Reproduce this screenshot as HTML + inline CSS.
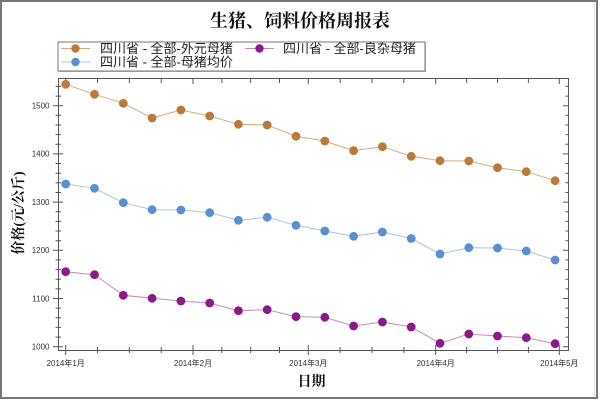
<!DOCTYPE html>
<html><head><meta charset="utf-8"><style>
html,body{margin:0;padding:0;background:#fff;}
svg{display:block;}
</style></head><body>
<svg width="600" height="400" viewBox="0 0 600 400" xmlns="http://www.w3.org/2000/svg">
<rect x="0" y="0" width="600" height="400" fill="#fff"/>
<rect x="1" y="1" width="596" height="397" fill="none" stroke="#777" stroke-width="2"/>
<line x1="594.5" y1="2" x2="594.5" y2="397" stroke="#e4e4e4" stroke-width="1"/>

<text x="300" y="27" text-anchor="middle" font-family="'Liberation Serif','Noto Serif CJK SC',serif" font-weight="bold" font-size="18" fill="#111">生猪、饲料价格周报表</text>

<!-- legend -->
<rect x="59" y="43" width="367" height="29" fill="#bbb"/>
<rect x="58" y="42" width="367" height="29" fill="#fff" stroke="#777" stroke-width="1"/>
<g font-family="'Liberation Sans','Noto Sans CJK SC',sans-serif" font-size="13" fill="#222">
<line x1="61" y1="48.5" x2="90" y2="48.5" stroke="#d9a878" stroke-width="1"/>
<circle cx="75.5" cy="48.5" r="4.2" fill="#b97a3b"/>
<text x="100" y="53">四川省 - 全部-外元母猪</text>
<line x1="245" y1="48.5" x2="274" y2="48.5" stroke="#c58ac4" stroke-width="1"/>
<circle cx="259.5" cy="48.5" r="4.2" fill="#8b1a89"/>
<text x="283" y="53">四川省 - 全部-良杂母猪</text>
<line x1="61" y1="62" x2="90" y2="62" stroke="#a9c4e6" stroke-width="1"/>
<circle cx="75.5" cy="62" r="4.2" fill="#5b8fd0"/>
<text x="100" y="66.5">四川省 - 全部-母猪均价</text>
</g>

<!-- plot frame -->
<g stroke="#555" stroke-width="1" fill="none">
<path d="M58.5 78.5 H568.5 V350.5 H58.5 Z"/>
<path d="M53 346.7H63M53 298.5H63M53 250.3H63M53 202.1H63M53 153.9H63M53 105.7H63"/>
<path d="M55.5 337.1H61M55.5 327.4H61M55.5 317.8H61M55.5 308.1H61M55.5 288.9H61M55.5 279.2H61M55.5 269.6H61M55.5 259.9H61M55.5 240.7H61M55.5 231H61M55.5 221.4H61M55.5 211.7H61M55.5 192.5H61M55.5 182.8H61M55.5 173.2H61M55.5 163.5H61M55.5 144.3H61M55.5 134.6H61M55.5 125H61M55.5 115.3H61M55.5 96.1H61M55.5 86.4H61"/>
<path d="M563 346.7H568.5M563 298.5H568.5M563 250.3H568.5M563 202.1H568.5M563 153.9H568.5M563 105.7H568.5"/>
<path d="M565.5 337.1H568.5M565.5 327.4H568.5M565.5 317.8H568.5M565.5 308.1H568.5M565.5 288.9H568.5M565.5 279.2H568.5M565.5 269.6H568.5M565.5 259.9H568.5M565.5 240.7H568.5M565.5 231H568.5M565.5 221.4H568.5M565.5 211.7H568.5M565.5 192.5H568.5M565.5 182.8H568.5M565.5 173.2H568.5M565.5 163.5H568.5M565.5 144.3H568.5M565.5 134.6H568.5M565.5 125H568.5M565.5 115.3H568.5M565.5 96.1H568.5M565.5 86.4H568.5"/>
<path d="M65.7 345V355M193 345V355M308.3 345V355M435.7 345V355M559.3 345V355"/>
<path d="M97.5 347V353M129.3 347V353M161.2 347V353M221.8 347V353M250.7 347V353M279.5 347V353M340.1 347V353M372 347V353M403.9 347V353M466.6 347V353M497.5 347V353M528.4 347V353"/>
<path d="M65.7 78.5V84M193 78.5V84M308.3 78.5V84M435.7 78.5V84M559.3 78.5V84M97.5 78.5V83M129.3 78.5V83M161.2 78.5V83M221.8 78.5V83M250.7 78.5V83M279.5 78.5V83M340.1 78.5V83M372 78.5V83M403.9 78.5V83M466.6 78.5V83M497.5 78.5V83M528.4 78.5V83"/>
</g>

<!-- y tick labels -->
<g font-family="'Liberation Sans',sans-serif" font-size="8" fill="#333" text-anchor="end">
<text x="49.5" y="349.5">1000</text>
<text x="49.5" y="301.3">1100</text>
<text x="49.5" y="253.1">1200</text>
<text x="49.5" y="204.9">1300</text>
<text x="49.5" y="156.7">1400</text>
<text x="49.5" y="108.5">1500</text>
</g>
<!-- x tick labels -->
<g font-family="'Liberation Sans','Noto Sans CJK SC',sans-serif" font-size="8" fill="#333" text-anchor="middle">
<text x="65.7" y="366">2014年1月</text>
<text x="193" y="366">2014年2月</text>
<text x="308.3" y="366">2014年3月</text>
<text x="435.7" y="366">2014年4月</text>
<text x="559.3" y="366">2014年5月</text>
</g>

<!-- axis titles -->
<text x="311.5" y="386" text-anchor="middle" font-family="'Liberation Serif','Noto Serif CJK SC',serif" font-weight="bold" font-size="14" fill="#111">日期</text>
<text transform="translate(23,213) rotate(-90)" text-anchor="middle" font-family="'Liberation Serif','Noto Serif CJK SC',serif" font-weight="bold" font-size="14" fill="#111">价格(元/公斤)</text>

<!-- series: orange -->
<polyline fill="none" stroke="#d9a878" stroke-width="1" points="65.7,84.3 94.5,94.3 123.3,103.3 152.1,118 180.9,110 209.7,116 238.4,124.3 267.2,125 296,136.3 324.8,141 353.6,150.7 382.4,146.7 411.2,156.3 440,160.7 468.8,161 497.5,167.7 526.3,171.7 555.1,180.7"/>
<g fill="#b97a3b">
<circle cx="65.7" cy="84.3" r="4.4"/><circle cx="94.5" cy="94.3" r="4.4"/><circle cx="123.3" cy="103.3" r="4.4"/><circle cx="152.1" cy="118" r="4.4"/><circle cx="180.9" cy="110" r="4.4"/><circle cx="209.7" cy="116" r="4.4"/><circle cx="238.4" cy="124.3" r="4.4"/><circle cx="267.2" cy="125" r="4.4"/><circle cx="296" cy="136.3" r="4.4"/><circle cx="324.8" cy="141" r="4.4"/><circle cx="353.6" cy="150.7" r="4.4"/><circle cx="382.4" cy="146.7" r="4.4"/><circle cx="411.2" cy="156.3" r="4.4"/><circle cx="440" cy="160.7" r="4.4"/><circle cx="468.8" cy="161" r="4.4"/><circle cx="497.5" cy="167.7" r="4.4"/><circle cx="526.3" cy="171.7" r="4.4"/><circle cx="555.1" cy="180.7" r="4.4"/>
</g>

<!-- series: blue -->
<polyline fill="none" stroke="#a9c4e6" stroke-width="1" points="65.7,184 94.5,188.3 123.3,202.7 152.1,209.7 180.9,210 209.7,212.7 238.4,220.3 267.2,217.3 296,225.3 324.8,231 353.6,236.3 382.4,232 411.2,238.5 440,254 468.8,247.7 497.5,248 526.3,251 555.1,260"/>
<g fill="#5b8fd0">
<circle cx="65.7" cy="184" r="4.4"/><circle cx="94.5" cy="188.3" r="4.4"/><circle cx="123.3" cy="202.7" r="4.4"/><circle cx="152.1" cy="209.7" r="4.4"/><circle cx="180.9" cy="210" r="4.4"/><circle cx="209.7" cy="212.7" r="4.4"/><circle cx="238.4" cy="220.3" r="4.4"/><circle cx="267.2" cy="217.3" r="4.4"/><circle cx="296" cy="225.3" r="4.4"/><circle cx="324.8" cy="231" r="4.4"/><circle cx="353.6" cy="236.3" r="4.4"/><circle cx="382.4" cy="232" r="4.4"/><circle cx="411.2" cy="238.5" r="4.4"/><circle cx="440" cy="254" r="4.4"/><circle cx="468.8" cy="247.7" r="4.4"/><circle cx="497.5" cy="248" r="4.4"/><circle cx="526.3" cy="251" r="4.4"/><circle cx="555.1" cy="260" r="4.4"/>
</g>

<!-- series: purple -->
<polyline fill="none" stroke="#c58ac4" stroke-width="1" points="65.7,271.7 94.5,274.7 123.3,295.3 152.1,298.3 180.9,301 209.7,303 238.4,310.7 267.2,309.7 296,316.7 324.8,317.3 353.6,326 382.4,322 411.2,327 440,343.3 468.8,334 497.5,336 526.3,337.7 555.1,343.7"/>
<g fill="#8b1a89">
<circle cx="65.7" cy="271.7" r="4.4"/><circle cx="94.5" cy="274.7" r="4.4"/><circle cx="123.3" cy="295.3" r="4.4"/><circle cx="152.1" cy="298.3" r="4.4"/><circle cx="180.9" cy="301" r="4.4"/><circle cx="209.7" cy="303" r="4.4"/><circle cx="238.4" cy="310.7" r="4.4"/><circle cx="267.2" cy="309.7" r="4.4"/><circle cx="296" cy="316.7" r="4.4"/><circle cx="324.8" cy="317.3" r="4.4"/><circle cx="353.6" cy="326" r="4.4"/><circle cx="382.4" cy="322" r="4.4"/><circle cx="411.2" cy="327" r="4.4"/><circle cx="440" cy="343.3" r="4.4"/><circle cx="468.8" cy="334" r="4.4"/><circle cx="497.5" cy="336" r="4.4"/><circle cx="526.3" cy="337.7" r="4.4"/><circle cx="555.1" cy="343.7" r="4.4"/>
</g>
</svg>
</body></html>
